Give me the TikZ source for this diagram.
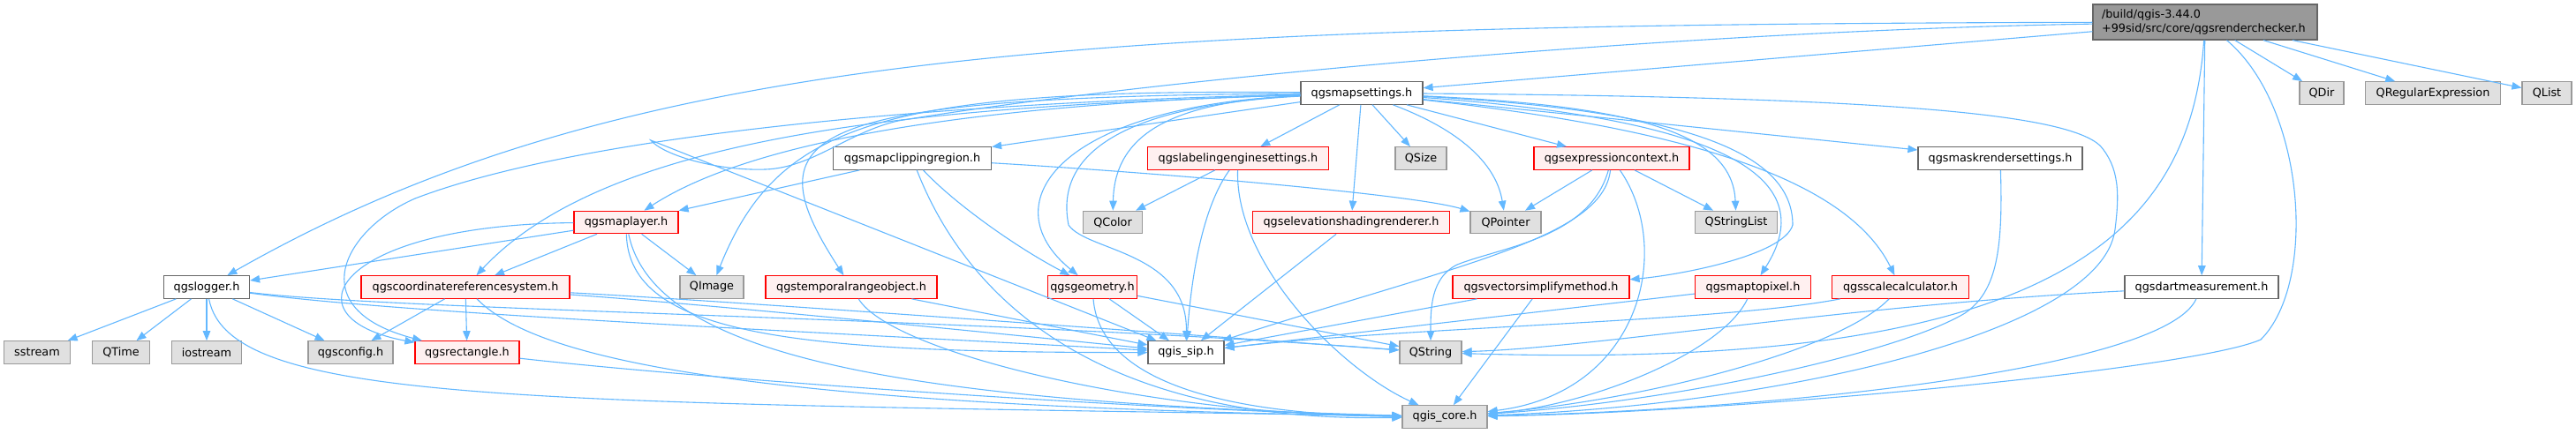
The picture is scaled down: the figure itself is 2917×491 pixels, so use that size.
\documentclass[tikz,border=0pt]{standalone}
\usepackage{fontspec}
\setmainfont{DejaVu Sans}
\usetikzlibrary{arrows.meta}
\definecolor{edgec}{HTML}{63B8FF}
\definecolor{rootfill}{HTML}{999999}
\definecolor{darkb}{HTML}{666666}
\definecolor{grayfill}{HTML}{E0E0E0}
\definecolor{grayb}{HTML}{999999}
\definecolor{redfill}{HTML}{FFF0F0}
\begin{document}
\begin{tikzpicture}[x=1pt,y=-1pt,
  box/.style={draw, rectangle, minimum height=25.5pt, inner sep=0pt, line width=1.2pt, font=\fontsize{12.8}{15.5}\selectfont},
  wbox/.style={box, fill=white, draw=darkb},
  rbox/.style={box, fill=redfill, draw=red},
  gbox/.style={box, fill=grayfill, draw=grayb},
  rootbox/.style={box, fill=rootfill, draw=darkb, minimum height=40pt, text width=234pt, inner xsep=10pt, align=left},
  edg/.style={draw=edgec, line width=1.1pt, -{Triangle[length=11pt,width=8.5pt]}}
]
\fill[white] (0,0) rectangle (2917,491);
\useasboundingbox (0,0) rectangle (2917,491);

% row 0
\node[rootbox] (root) at (2497,25) {/build/qgis-3.44.0\\+99sid/src/core/qgsrenderchecker.h};
% row 1
\node[wbox, minimum width=138pt] (mapsettings) at (1542,105.5) {qgsmapsettings.h};
\node[gbox, minimum width=50pt] (QDir) at (2629,105.5) {QDir};
\node[gbox, minimum width=153pt] (QRegExp) at (2755,105.5) {QRegularExpression};
\node[gbox, minimum width=56pt] (QList) at (2884,105.5) {QList};
% row 2
\node[wbox, minimum width=179pt] (clipping) at (1033,179.5) {qgsmapclippingregion.h};
\node[rbox, minimum width=205pt] (labeling) at (1402,179.5) {qgslabelingenginesettings.h};
\node[gbox, minimum width=58pt] (QSize) at (1609,179.5) {QSize};
\node[rbox, minimum width=176pt] (expression) at (1825,179.5) {qgsexpressioncontext.h};
\node[wbox, minimum width=186pt] (maskrender) at (2265,179.5) {qgsmaskrendersettings.h};
% row 3
\node[rbox, minimum width=118pt] (maplayer) at (709,252) {qgsmaplayer.h};
\node[gbox, minimum width=67pt] (QColor) at (1260,252) {QColor};
\node[rbox, minimum width=223pt] (elevation) at (1530,252) {qgselevationshadingrenderer.h};
\node[gbox, minimum width=80pt] (QPointer) at (1705,252) {QPointer};
\node[gbox, minimum width=93pt] (QStringList) at (1966,252) {QStringList};
% row 4
\node[wbox, minimum width=97pt] (logger) at (234,325.5) {qgslogger.h};
\node[rbox, minimum width=236pt] (crs) at (527,325.5) {qgscoordinatereferencesystem.h};
\node[gbox, minimum width=72pt] (QImage) at (806,325.5) {QImage};
\node[rbox, minimum width=194pt] (temporal) at (964,325.5) {qgstemporalrangeobject.h};
\node[rbox, minimum width=101pt] (geometry) at (1237,325.5) {qgsgeometry.h};
\node[rbox, minimum width=200pt] (vectorsimplify) at (1745,325.5) {qgsvectorsimplifymethod.h};
\node[rbox, minimum width=131pt] (maptopixel) at (1985,325.5) {qgsmaptopixel.h};
\node[rbox, minimum width=155pt] (scalecalc) at (2152,325.5) {qgsscalecalculator.h};
\node[wbox, minimum width=174pt] (dart) at (2493,325.5) {qgsdartmeasurement.h};
% row 5
\node[gbox, minimum width=75pt] (sstream) at (42,399.5) {sstream};
\node[gbox, minimum width=65pt] (QTime) at (137,399.5) {QTime};
\node[gbox, minimum width=79pt] (iostream) at (234,399.5) {iostream};
\node[gbox, minimum width=96pt] (qgsconfig) at (397,399.5) {qgsconfig.h};
\node[rbox, minimum width=118pt] (rectangle) at (529,399.5) {qgsrectangle.h};
\node[wbox, minimum width=86pt] (qgissip) at (1343,399.5) {qgis\_sip.h};
\node[gbox, minimum width=70pt] (QString) at (1620,399.5) {QString};
% row 6
\node[gbox, minimum width=96pt] (qgiscore) at (1636,472.5) {qgis\_core.h};

% ---- edges from root
\draw[edg] (root) -- (mapsettings);
\draw[edg] (root) -- (QDir);
\draw[edg] (root) -- (QRegExp);
\draw[edg] (root) -- (QList);
\draw[edg] (root) -- (dart);
\draw[edg] (root) .. controls (1200,28) and (700,60) .. (logger);
\draw[edg] (root) .. controls (1900,35) and (1300,90) .. (1017,137) .. controls (960,150) and (920,190) .. (867,192) .. controls (810,194) and (750,175) .. (737,159) -- (qgissip);
\draw[edg] (root) .. controls (2480,280) and (2300,420) .. (QString);
\draw[edg] (root) .. controls (2610,120) and (2625,320) .. (2560,385) .. controls (2480,420) and (1950,468) .. (qgiscore);

% ---- edges from qgsmapsettings.h
\draw[edg] (mapsettings) -- (clipping);
\draw[edg] (mapsettings) -- (labeling);
\draw[edg] (mapsettings) -- (QSize);
\draw[edg] (mapsettings) -- (expression);
\draw[edg] (mapsettings) -- (elevation);
\draw[edg] (mapsettings) -- (maskrender);
\draw[edg] (mapsettings) .. controls (1660,150) and (1695,190) .. (QPointer);
\draw[edg] (mapsettings) .. controls (1330,115) and (1262,150) .. (QColor);
\draw[edg] (mapsettings) .. controls (1850,120) and (1962,150) .. (QStringList);
\draw[edg] (mapsettings) .. controls (1900,125) and (2030,170) .. (2030,255) .. controls (2020,290) and (1900,312) .. (vectorsimplify);
\draw[edg] (mapsettings) .. controls (1950,135) and (2065,200) .. (maptopixel);
\draw[edg] (mapsettings) .. controls (1900,145) and (2090,200) .. (scalecalc);
\draw[edg] (mapsettings) .. controls (2150,110) and (2340,130) .. (2378,165) .. controls (2400,190) and (2400,220) .. (2395,260) .. controls (2380,380) and (2000,460) .. (qgiscore);
\draw[edg] (mapsettings) .. controls (1260,120) and (1195,180) .. (1210,255) .. controls (1230,285) and (1345,285) .. (qgissip);
\draw[edg] (mapsettings) .. controls (1200,120) and (1120,230) .. (geometry);
\draw[edg] (mapsettings) .. controls (1000,100) and (880,140) .. (QImage);
\draw[edg] (mapsettings) .. controls (900,110) and (850,150) .. (temporal);
\draw[edg] (mapsettings) .. controls (1100,118) and (850,160) .. (maplayer);
\draw[edg] (mapsettings) .. controls (1100,120) and (700,140) .. (crs);
\draw[edg] (mapsettings) .. controls (1000,118) and (640,160) .. (470,225) .. controls (390,260) and (340,350) .. (rectangle);

% ---- qgsmapclippingregion.h
\draw[edg] (clipping) -- (maplayer);
\draw[edg] (clipping) .. controls (1300,195) and (1600,220) .. (QPointer);
\draw[edg] (clipping) .. controls (1080,230) and (1150,280) .. (geometry);
\draw[edg] (clipping) .. controls (1080,300) and (1200,480) .. (qgiscore);

% ---- qgslabelingenginesettings.h
\draw[edg] (labeling) -- (QColor);
\draw[edg] (labeling) .. controls (1365,230) and (1350,300) .. (qgissip);
\draw[edg] (labeling) .. controls (1398,300) and (1520,420) .. (qgiscore);

% ---- qgsexpressioncontext.h
\draw[edg] (expression) -- (QPointer);
\draw[edg] (expression) -- (QStringList);
\draw[edg] (expression) .. controls (1800,270) and (1700,280) .. (1650,300) .. controls (1620,315) and (1620,350) .. (QString);
\draw[edg] (expression) .. controls (1815,270) and (1650,300) .. (qgissip);
\draw[edg] (expression) .. controls (1895,280) and (1860,445) .. (qgiscore);

% ---- others in row 2/3
\draw[edg] (elevation) -- (qgissip);
\draw[edg] (maskrender) .. controls (2268,280) and (2262,330) .. (2225,355) .. controls (2150,400) and (1900,455) .. (qgiscore);

% ---- qgsmaplayer.h
\draw[edg] (maplayer) -- (logger);
\draw[edg] (maplayer) -- (crs);
\draw[edg] (maplayer) -- (QImage);
\draw[edg] (maplayer) .. controls (380,255) and (320,360) .. (rectangle);
\draw[edg] (maplayer) .. controls (712,380) and (900,400) .. (qgissip);
\draw[edg] (maplayer) .. controls (740,400) and (1000,455) .. (qgiscore);

% ---- qgslogger.h
\draw[edg] (logger) -- (sstream);
\draw[edg] (logger) -- (QTime);
\draw[edg] (logger) -- (iostream);
\draw[edg] (logger) -- (qgsconfig);
\draw[edg] (logger) .. controls (260,460) and (600,455) .. (qgiscore);
\draw[edg] (logger) .. controls (450,355) and (900,375) .. (qgissip);
\draw[edg] (logger) .. controls (450,352) and (1100,360) .. (QString);

% ---- qgscoordinatereferencesystem.h
\draw[edg] (crs) -- (qgsconfig);
\draw[edg] (crs) -- (rectangle);
\draw[edg] (crs) .. controls (600,400) and (800,460) .. (qgiscore);
\draw[edg] (crs) .. controls (800,345) and (1100,375) .. (qgissip);
\draw[edg] (crs) .. controls (800,340) and (1150,365) .. (QString);

% ---- row 4 / 5 others
\draw[edg] (rectangle) .. controls (800,430) and (1300,465) .. (qgiscore);
\draw[edg] (temporal) -- (qgissip);
\draw[edg] (temporal) .. controls (1010,400) and (1300,470) .. (qgiscore);
\draw[edg] (geometry) -- (qgissip);
\draw[edg] (geometry) -- (QString);
\draw[edg] (geometry) .. controls (1245,430) and (1380,470) .. (qgiscore);
\draw[edg] (vectorsimplify) -- (qgissip);
\draw[edg] (vectorsimplify) -- (qgiscore);
\draw[edg] (maptopixel) -- (qgissip);
\draw[edg] (maptopixel) .. controls (1950,400) and (1800,460) .. (qgiscore);
\draw[edg] (scalecalc) .. controls (1950,365) and (1600,370) .. (qgissip);
\draw[edg] (scalecalc) .. controls (2080,400) and (1850,455) .. (qgiscore);
\draw[edg] (dart) .. controls (2100,345) and (1800,395) .. (QString);
\draw[edg] (dart) .. controls (2450,420) and (2000,465) .. (qgiscore);
\end{tikzpicture}
\end{document}
